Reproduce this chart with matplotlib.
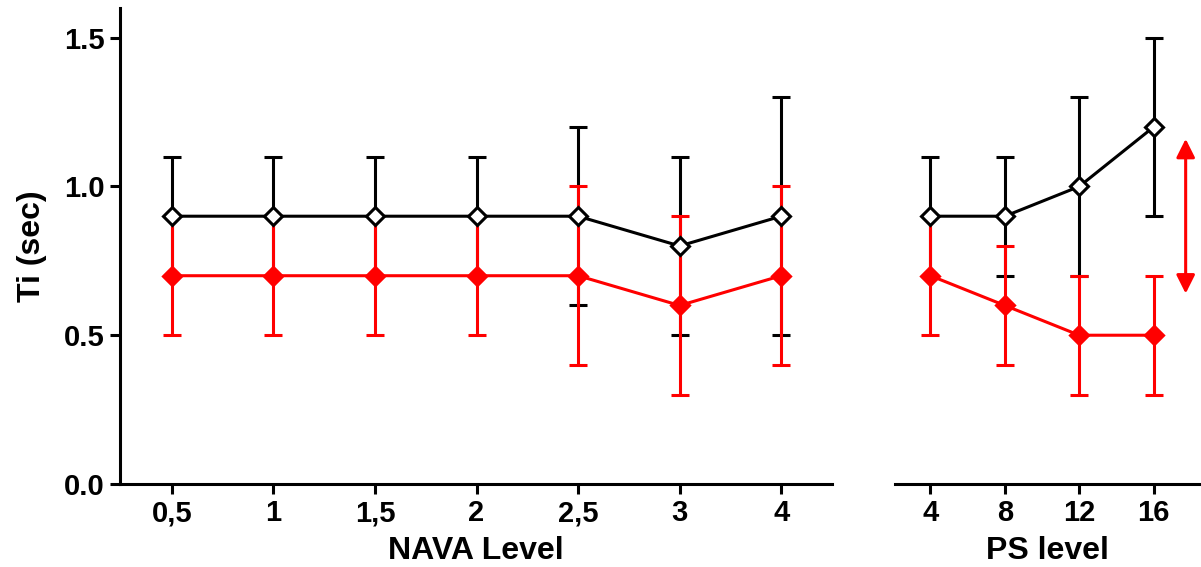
import numpy as np
import matplotlib
matplotlib.use('Agg')
import matplotlib.pyplot as plt

plt.rcParams['font.family'] = ['Liberation Sans', 'DejaVu Sans']
plt.rcParams['font.weight'] = 'bold'

# NAVA levels
nava_labels = ['0,5', '1', '1,5', '2', '2,5', '3', '4']
nava_black = [0.9, 0.9, 0.9, 0.9, 0.9, 0.8, 0.9]
nava_black_lo = [0.7, 0.7, 0.7, 0.7, 0.6, 0.5, 0.5]
nava_black_hi = [1.1, 1.1, 1.1, 1.1, 1.2, 1.1, 1.3]
nava_red = [0.7, 0.7, 0.7, 0.7, 0.7, 0.6, 0.7]
nava_red_lo = [0.5, 0.5, 0.5, 0.5, 0.4, 0.3, 0.4]
nava_red_hi = [0.9, 0.9, 0.9, 0.9, 1.0, 0.9, 1.0]

# PS levels
ps_labels = ['4', '8', '12', '16']
ps_black = [0.9, 0.9, 1.0, 1.2]
ps_black_lo = [0.7, 0.7, 0.7, 0.9]
ps_black_hi = [1.1, 1.1, 1.3, 1.5]
ps_red = [0.7, 0.6, 0.5, 0.5]
ps_red_lo = [0.5, 0.4, 0.3, 0.3]
ps_red_hi = [0.9, 0.8, 0.7, 0.7]

# red double arrow at the right (PS axis data coords)
arrow_x = 3.43
arrow_y = (0.64, 1.16)

LW = 2.2
MS = 9
CAP = 6.5


def draw(ax, vals, lo, hi, color, face):
    x = np.arange(len(vals))
    v = np.array(vals)
    yerr = [v - np.array(lo), np.array(hi) - v]
    ax.errorbar(x, v, yerr=yerr, color=color, lw=LW, elinewidth=LW,
                capsize=CAP, capthick=LW, marker='D', ms=MS,
                mfc=face, mec=color, mew=LW, clip_on=False, zorder=3)


def style(ax, labels, xlim):
    ax.set_ylim(0, 1.6)
    ax.set_xlim(*xlim)
    ax.set_xticks(np.arange(len(labels)))
    ax.set_xticklabels(labels)
    for s in ['top', 'right']:
        ax.spines[s].set_visible(False)
    for s in ['left', 'bottom']:
        ax.spines[s].set_linewidth(LW)
    ax.tick_params(direction='out', length=7, width=LW, labelsize=21, pad=4)


fig = plt.figure(figsize=(12.01, 5.67), dpi=100)
ax1 = fig.add_axes([0.0999, 0.1464, 0.5929, 0.8396])
ax2 = fig.add_axes([0.745, 0.1464, 0.254, 0.8396])

draw(ax1, nava_black, nava_black_lo, nava_black_hi, 'black', 'white')
draw(ax1, nava_red, nava_red_lo, nava_red_hi, 'red', 'red')
draw(ax2, ps_black, ps_black_lo, ps_black_hi, 'black', 'white')
draw(ax2, ps_red, ps_red_lo, ps_red_hi, 'red', 'red')

style(ax1, nava_labels, (-0.51, 6.5))
style(ax2, ps_labels, (-0.48, 3.62))
ax1.set_yticks([0.0, 0.5, 1.0, 1.5])
ax1.set_yticklabels(['0.0', '0.5', '1.0', '1.5'])
ax2.spines['left'].set_visible(False)
ax2.set_yticks([])

ax1.set_xlabel('NAVA Level', fontsize=23, fontweight='bold', labelpad=6)
ax2.set_xlabel('PS level', fontsize=23, fontweight='bold', labelpad=6)
ax1.set_ylabel('Ti (sec)', fontsize=23, fontweight='bold', labelpad=12)

ax2.annotate('', xy=(arrow_x, arrow_y[1]), xytext=(arrow_x, arrow_y[0]),
             xycoords='data', textcoords='data', annotation_clip=False,
             arrowprops=dict(arrowstyle='<|-|>', color='red', lw=2.2,
                             mutation_scale=28, shrinkA=0, shrinkB=0))

fig.savefig('out.png', dpi=100)
